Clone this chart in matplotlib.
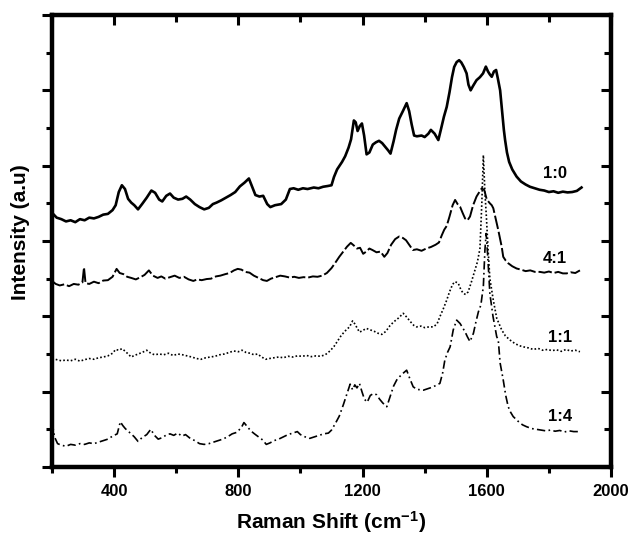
import matplotlib
matplotlib.use("Agg")
import matplotlib.pyplot as plt
from matplotlib.ticker import MultipleLocator, NullFormatter

plt.rcParams['font.family'] = ['Liberation Sans', 'DejaVu Sans']
plt.rcParams['font.weight'] = 'bold'
plt.rcParams['mathtext.fontset'] = 'custom'
plt.rcParams['mathtext.rm'] = 'Liberation Sans:bold'
plt.rcParams['mathtext.it'] = 'Liberation Sans:bold'
plt.rcParams['mathtext.bf'] = 'Liberation Sans:bold'
plt.rcParams['mathtext.default'] = 'rm'

# ---------------- data: (Raman shift cm^-1, offset intensity) ----------------
spec_10 = [(200, 6.75), (215, 6.62), (230, 6.58), (245, 6.52), (260, 6.55), (275, 6.50), (290, 6.58),
           (305, 6.55), (320, 6.62), (335, 6.60), (350, 6.64), (365, 6.70), (380, 6.72), (395, 6.82),
           (405, 6.95), (415, 7.30), (425, 7.48), (435, 7.38), (445, 7.12), (455, 7.02), (465, 6.95),
           (477, 6.84), (490, 6.98), (505, 7.15), (520, 7.34), (532, 7.28), (545, 7.10), (555, 7.05),
           (568, 7.20), (580, 7.26), (592, 7.15), (606, 7.10), (620, 7.12), (632, 7.18), (645, 7.10),
           (660, 6.98), (675, 6.90), (690, 6.84), (705, 6.88), (718, 6.98), (730, 7.02), (745, 7.08),
           (760, 7.15), (775, 7.22), (790, 7.30), (805, 7.45), (820, 7.55), (834, 7.66), (844, 7.45),
           (855, 7.22), (868, 7.18), (880, 7.20), (893, 6.98), (903, 6.90), (918, 6.95), (938, 6.98),
           (953, 7.10), (966, 7.38), (978, 7.40), (993, 7.36), (1008, 7.40), (1023, 7.38), (1043, 7.42),
           (1058, 7.40), (1073, 7.44), (1088, 7.46), (1100, 7.48), (1108, 7.70), (1118, 7.90),
           (1134, 8.10), (1144, 8.25), (1155, 8.48), (1163, 8.70), (1172, 9.20), (1178, 9.15),
           (1184, 8.92), (1191, 9.05), (1198, 9.12), (1205, 8.80), (1213, 8.30), (1222, 8.35),
           (1233, 8.56), (1243, 8.62), (1253, 8.66), (1263, 8.60), (1273, 8.50), (1283, 8.40),
           (1290, 8.32), (1300, 8.65), (1308, 8.95), (1318, 9.25), (1330, 9.45), (1342, 9.66),
           (1350, 9.45), (1358, 9.10), (1366, 8.80), (1375, 8.78), (1390, 8.80), (1400, 8.76),
           (1412, 8.85), (1420, 8.95), (1432, 8.85), (1444, 8.68), (1452, 8.95), (1462, 9.30),
           (1471, 9.56), (1480, 9.95), (1488, 10.35), (1495, 10.62), (1503, 10.75), (1511, 10.80),
           (1518, 10.74), (1526, 10.62), (1535, 10.45), (1541, 10.15), (1548, 10.00), (1556, 10.12),
           (1567, 10.27), (1578, 10.35), (1588, 10.45), (1597, 10.63), (1604, 10.50), (1610, 10.42),
           (1616, 10.36), (1623, 10.50), (1630, 10.54), (1636, 10.30), (1643, 10.00), (1650, 9.40),
           (1655, 8.95), (1659, 8.68), (1665, 8.35), (1672, 8.10), (1682, 7.90), (1696, 7.71),
           (1710, 7.58), (1725, 7.50), (1739, 7.44), (1755, 7.40), (1770, 7.36), (1785, 7.34),
           (1800, 7.30), (1815, 7.32), (1830, 7.28), (1845, 7.31), (1860, 7.29), (1875, 7.30),
           (1890, 7.33), (1905, 7.42)]

spec_41 = [(200, 4.94), (212, 4.86), (225, 4.82), (240, 4.85), (255, 4.80), (270, 4.86), (285, 4.84),
           (298, 4.90), (303, 5.30), (308, 4.88), (320, 4.86), (335, 4.92), (350, 4.88), (365, 4.95),
           (380, 4.96), (395, 5.05), (408, 5.26), (418, 5.15), (430, 5.12), (442, 5.05), (455, 5.02),
           (470, 4.98), (485, 5.04), (498, 5.10), (512, 5.22), (525, 5.08), (540, 5.02), (552, 5.06),
           (565, 5.00), (580, 5.04), (595, 5.08), (610, 5.02), (625, 5.05), (640, 4.98), (655, 4.94),
           (668, 4.98), (682, 4.96), (698, 4.99), (712, 5.00), (728, 5.06), (742, 5.08), (758, 5.12),
           (772, 5.15), (786, 5.22), (798, 5.26), (810, 5.24), (822, 5.18), (836, 5.16), (850, 5.08),
           (865, 5.02), (880, 4.96), (892, 4.94), (905, 5.00), (920, 5.04), (935, 5.08), (950, 5.06),
           (965, 5.03), (980, 5.05), (995, 5.02), (1010, 5.04), (1025, 5.03), (1040, 5.06),
           (1055, 5.05), (1070, 5.08), (1085, 5.15), (1100, 5.28), (1112, 5.42), (1125, 5.58),
           (1138, 5.72), (1150, 5.85), (1162, 5.95), (1172, 5.88), (1182, 5.80), (1192, 5.82),
           (1202, 5.66), (1212, 5.72), (1222, 5.80), (1232, 5.76), (1245, 5.70), (1258, 5.72),
           (1270, 5.58), (1280, 5.68), (1292, 5.90), (1305, 6.05), (1318, 6.12), (1330, 6.08),
           (1340, 6.02), (1350, 5.90), (1362, 5.76), (1375, 5.78), (1390, 5.74), (1405, 5.80),
           (1420, 5.84), (1435, 5.90), (1446, 5.96), (1455, 6.15), (1463, 6.30), (1471, 6.40),
           (1480, 6.65), (1490, 6.95), (1498, 7.09), (1506, 6.98), (1514, 6.91), (1522, 6.75),
           (1530, 6.60), (1538, 6.55), (1546, 6.65), (1556, 6.95), (1567, 7.18), (1576, 7.30),
           (1584, 7.40), (1592, 7.35), (1600, 7.10), (1610, 7.00), (1616, 6.95), (1621, 6.87),
           (1630, 6.55), (1637, 6.29), (1643, 6.05), (1648, 5.85), (1653, 5.58), (1661, 5.48),
           (1669, 5.41), (1682, 5.33), (1696, 5.27), (1710, 5.24), (1725, 5.20), (1740, 5.22),
           (1755, 5.18), (1771, 5.18), (1785, 5.16), (1800, 5.19), (1815, 5.15), (1830, 5.18),
           (1845, 5.14), (1857, 5.14), (1870, 5.17), (1885, 5.15), (1900, 5.22)]

spec_11 = [(200, 2.88), (215, 2.85), (230, 2.82), (245, 2.84), (260, 2.82), (275, 2.86), (290, 2.81),
           (305, 2.85), (320, 2.88), (335, 2.86), (350, 2.90), (365, 2.92), (380, 2.95), (395, 3.02),
           (405, 3.12), (415, 3.10), (425, 3.14), (435, 3.08), (445, 3.00), (455, 2.92), (465, 2.96),
           (478, 3.00), (490, 3.04), (505, 3.10), (518, 3.02), (530, 2.98), (545, 3.00), (560, 2.98),
           (575, 3.02), (590, 2.96), (605, 3.00), (620, 2.98), (635, 2.95), (650, 2.92), (665, 2.88),
           (680, 2.86), (695, 2.90), (710, 2.92), (725, 2.94), (740, 2.98), (755, 3.00), (770, 3.04),
           (785, 3.08), (800, 3.06), (812, 3.10), (825, 3.04), (838, 3.02), (850, 2.98), (862, 3.00),
           (875, 2.92), (888, 2.86), (900, 2.88), (915, 2.90), (930, 2.92), (945, 2.90), (960, 2.94),
           (975, 2.92), (990, 2.95), (1005, 2.94), (1020, 2.96), (1035, 2.93), (1050, 2.95),
           (1065, 2.94), (1080, 2.98), (1095, 3.08), (1108, 3.20), (1120, 3.35), (1132, 3.50),
           (1145, 3.62), (1158, 3.72), (1168, 3.88), (1175, 3.80), (1182, 3.70), (1190, 3.58),
           (1200, 3.62), (1212, 3.68), (1225, 3.64), (1238, 3.60), (1250, 3.55), (1262, 3.52),
           (1275, 3.60), (1288, 3.75), (1300, 3.85), (1315, 3.95), (1331, 4.08), (1342, 3.98),
           (1355, 3.85), (1365, 3.76), (1374, 3.72), (1388, 3.74), (1400, 3.70), (1414, 3.72),
           (1428, 3.72), (1440, 3.80), (1449, 3.99), (1460, 4.20), (1471, 4.43), (1480, 4.65),
           (1490, 4.85), (1498, 4.92), (1508, 4.88), (1516, 4.72), (1524, 4.61), (1532, 4.58),
           (1540, 4.65), (1550, 4.90), (1562, 5.23), (1570, 5.45), (1578, 5.80), (1584, 7.00),
           (1589, 8.28), (1594, 7.30), (1599, 6.60), (1604, 5.80), (1610, 5.00), (1621, 4.43),
           (1632, 3.95), (1648, 3.64), (1660, 3.48), (1675, 3.37), (1690, 3.28), (1705, 3.22),
           (1718, 3.19), (1735, 3.16), (1750, 3.12), (1765, 3.15), (1780, 3.10), (1795, 3.12),
           (1810, 3.09), (1825, 3.11), (1840, 3.07), (1855, 3.12), (1870, 3.08), (1885, 3.10),
           (1900, 3.06)]

spec_14 = [(200, 1.20), (208, 0.80), (218, 0.62), (230, 0.58), (245, 0.55), (260, 0.60), (275, 0.58),
           (290, 0.62), (305, 0.60), (320, 0.64), (335, 0.62), (350, 0.66), (365, 0.70), (380, 0.74),
           (395, 0.82), (410, 0.88), (420, 1.20), (428, 1.10), (436, 1.02), (445, 0.95), (455, 0.88),
           (465, 0.80), (477, 0.68), (490, 0.78), (505, 0.86), (518, 1.00), (530, 0.84), (542, 0.74),
           (555, 0.78), (568, 0.85), (580, 0.88), (592, 0.84), (605, 0.90), (618, 0.82), (630, 0.86),
           (645, 0.76), (660, 0.70), (675, 0.62), (690, 0.60), (705, 0.62), (720, 0.66), (735, 0.70),
           (750, 0.74), (765, 0.80), (780, 0.88), (795, 0.92), (810, 1.05), (818, 1.18), (828, 1.08),
           (840, 0.96), (852, 0.88), (865, 0.80), (878, 0.72), (890, 0.60), (902, 0.64), (915, 0.70),
           (930, 0.74), (945, 0.80), (960, 0.86), (975, 0.90), (990, 0.94), (1000, 0.86), (1015, 0.80),
           (1030, 0.76), (1045, 0.80), (1060, 0.84), (1075, 0.88), (1090, 0.90), (1100, 0.98),
           (1112, 1.15), (1125, 1.35), (1138, 1.65), (1150, 1.95), (1160, 2.20), (1168, 2.05),
           (1175, 2.18), (1182, 2.10), (1190, 2.22), (1198, 2.00), (1206, 1.80), (1215, 1.72),
           (1225, 1.90), (1235, 1.95), (1245, 1.92), (1255, 1.80), (1265, 1.70), (1278, 1.60),
           (1290, 1.90), (1300, 2.15), (1310, 2.31), (1325, 2.45), (1342, 2.57), (1352, 2.35),
           (1363, 2.13), (1375, 2.06), (1388, 2.05), (1396, 2.04), (1410, 2.08), (1425, 2.12),
           (1440, 2.18), (1449, 2.22), (1458, 2.50), (1465, 2.84), (1474, 3.05), (1482, 3.19),
           (1492, 3.64), (1503, 3.90), (1514, 3.81), (1522, 3.70), (1530, 3.59), (1538, 3.45),
           (1546, 3.33), (1557, 3.55), (1565, 3.85), (1573, 4.12), (1581, 4.30), (1589, 4.80),
           (1594, 5.76), (1598, 6.20), (1603, 5.60), (1610, 4.60), (1620, 4.00), (1632, 3.46),
           (1637, 3.37), (1643, 2.76), (1653, 2.31), (1661, 1.90), (1669, 1.60), (1677, 1.45),
           (1685, 1.34), (1700, 1.22), (1715, 1.12), (1728, 1.07), (1745, 1.02), (1760, 1.00),
           (1775, 0.98), (1790, 0.96), (1805, 0.98), (1820, 0.95), (1835, 0.97), (1850, 0.93),
           (1865, 0.96), (1880, 0.94), (1900, 0.94)]

labels = ["1:0", "4:1", "1:1", "1:4"]
label_x = [1819, 1819, 1836, 1836]
label_y = [7.80, 5.53, 3.45, 1.33]

x_major = [400, 800, 1200, 1600, 2000]

# ---------------- figure ----------------
fig = plt.figure(figsize=(6.33, 5.36), dpi=100)
rect = [52/633, 1 - 467/536, (611 - 52)/633, (467 - 15)/536]
ax = fig.add_axes(rect)

styles = [dict(lw=1.9, ls='-'),
          dict(lw=1.4, ls=(0, (7, 1.5))),
          dict(lw=1.2, ls=(0, (1, 1.3))),
          dict(lw=1.2, ls=(0, (5, 2, 1, 2)))]
for spec, st in zip([spec_10, spec_41, spec_11, spec_14], styles):
    xs = [p[0] for p in spec]
    ys = [p[1] for p in spec]
    ax.plot(xs, ys, color='black', **st)

for t, lx, ly in zip(labels, label_x, label_y):
    ax.text(lx, ly, t, fontsize=12, fontweight='bold', ha='center', va='center')

ax.set_xlim(200, 2000)
ax.set_ylim(0, 12)
ax.set_xticks(x_major)
ax.xaxis.set_minor_locator(MultipleLocator(200))
ax.yaxis.set_major_locator(MultipleLocator(2))
ax.yaxis.set_minor_locator(MultipleLocator(1))
ax.yaxis.set_major_formatter(NullFormatter())

for s in ax.spines.values():
    s.set_linewidth(3.2)

ax.tick_params(axis='both', which='major', direction='out', length=7.5, width=2.2,
               labelsize=12, pad=5)
ax.tick_params(axis='both', which='minor', direction='out', length=4.5, width=2.2)
for lab in ax.get_xticklabels():
    lab.set_fontweight('bold')

# mirrored ticks pointing inward on top and right (overlay axes, no data)
ax2 = fig.add_axes(rect, frameon=False)
ax2.set_xlim(200, 2000)
ax2.set_ylim(0, 12)
ax2.set_xticks(x_major)
ax2.xaxis.set_minor_locator(MultipleLocator(200))
ax2.yaxis.set_major_locator(MultipleLocator(2))
ax2.yaxis.set_minor_locator(MultipleLocator(1))
ax2.xaxis.set_major_formatter(NullFormatter())
ax2.yaxis.set_major_formatter(NullFormatter())
ax2.tick_params(axis='both', which='both', left=False, bottom=False, right=True, top=True,
                labelleft=False, labelbottom=False, labelright=False, labeltop=False,
                direction='in', width=2.2, color='black')
ax2.tick_params(axis='both', which='major', length=7.5)
ax2.tick_params(axis='both', which='minor', length=5)

ax.set_xlabel("Raman Shift (cm$^{-1}$)", fontsize=15, fontweight='bold', labelpad=7)
ax.set_ylabel("Intensity (a.u)", fontsize=15, fontweight='bold')
ax.yaxis.set_label_coords(-0.039, 0.52)

fig.savefig("out.png", dpi=100)
